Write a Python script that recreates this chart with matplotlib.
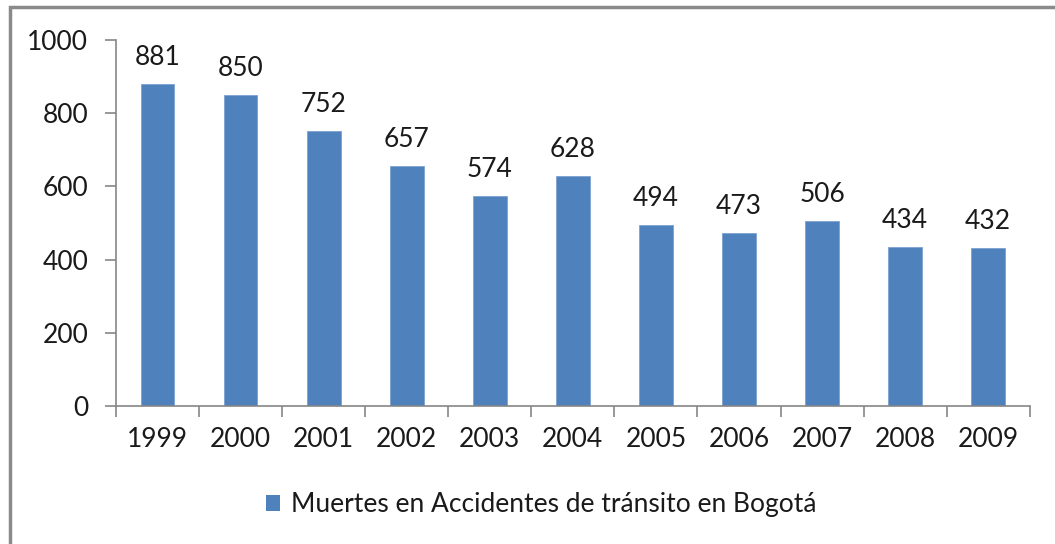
import numpy as np
import matplotlib.pyplot as plt
from matplotlib.patches import Rectangle, Patch

years = ['1999', '2000', '2001', '2002', '2003', '2004', '2005', '2006', '2007', '2008', '2009']
muertes = [881, 850, 752, 657, 574, 628, 494, 473, 506, 434, 432]
serie = 'Muertes en Accidentes de tránsito en Bogotá'

plt.rcParams['font.family'] = ['Lato', 'DejaVu Sans']
azul = '#4F81BD'
gris = '#868686'
fs = 19

fig = plt.figure(figsize=(10.55, 5.44), dpi=100)
ax = fig.add_axes([0.110, 0.254, 0.866, 0.672])

x = np.arange(len(years))
ax.bar(x, muertes, width=0.405, color=azul, edgecolor='#7DA2D0', linewidth=0.6)
for xi, v in zip(x, muertes):
    ax.annotate(str(v), (xi, v), xytext=(0, 10), textcoords='offset points',
                ha='center', va='bottom', fontsize=fs, color='#1a1a1a')

ax.set_xlim(-0.5, len(years) - 0.5)
ax.set_ylim(0, 1000)
ax.set_yticks(range(0, 1001, 200))
ax.set_xticks(x)
ax.set_xticklabels(years)
ax.set_xticks(np.arange(-0.5, len(years)), minor=True)

for s in ['top', 'right']:
    ax.spines[s].set_visible(False)
for s in ['left', 'bottom']:
    ax.spines[s].set_color(gris)
    ax.spines[s].set_linewidth(1.2)

ax.tick_params(axis='y', length=8, width=1.2, color=gris, pad=12, labelsize=fs, labelcolor='#1a1a1a')
ax.tick_params(axis='x', which='major', length=0, pad=15, labelsize=fs, labelcolor='#1a1a1a')
ax.tick_params(axis='x', which='minor', length=8, width=1.2, color=gris)

fig.legend(handles=[Patch(facecolor=azul, label=serie)], loc='center',
           bbox_to_anchor=(0.513, 0.072), frameon=False, fontsize=fs,
           handlelength=0.55, handleheight=0.55, handletextpad=0.4, labelcolor='#1a1a1a')

# marco del gráfico
fig.patches.append(Rectangle((10 / 1055, -0.1), 1.2, 1.1 - 7 / 544, transform=fig.transFigure,
                             fill=False, edgecolor='#8a8a8a', linewidth=2.5))

fig.savefig('out.png', dpi=100)
